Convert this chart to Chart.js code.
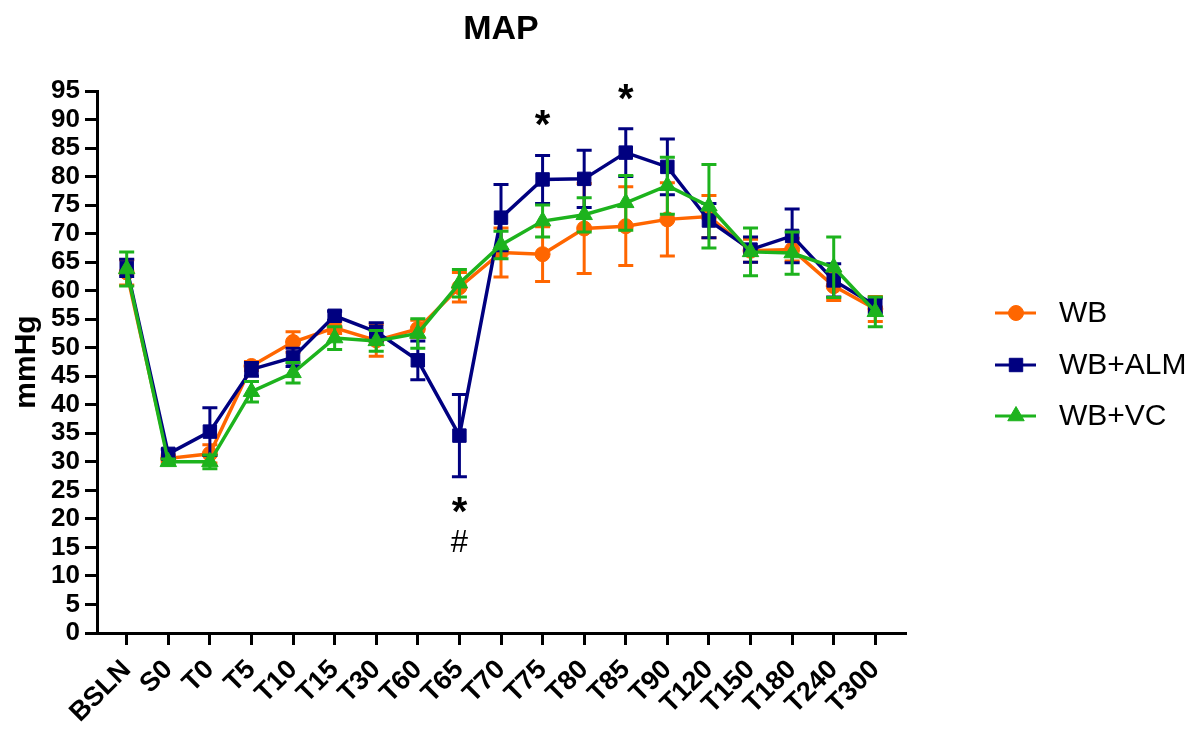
<!DOCTYPE html>
<html>
<head>
<meta charset="utf-8">
<title>MAP</title>
<script src="https://cdn.jsdelivr.net/npm/chart.js@4/dist/chart.umd.min.js"></script>
<style>
  html, body { margin: 0; padding: 0; background: #fff; }
</style>
</head>
<body>
<canvas id="chart" width="1199" height="730"></canvas>
<script>
// time points on the x axis
const timepoints = ['BSLN', 'S0', 'T0', 'T5', 'T10', 'T15', 'T30', 'T60', 'T65', 'T70',
  'T75', 'T80', 'T85', 'T90', 'T120', 'T150', 'T180', 'T240', 'T300'];

// y axis ticks, mmHg
const yTicks = [0, 5, 10, 15, 20, 25, 30, 35, 40, 45, 50, 55, 60, 65, 70, 75, 80, 85, 90, 95];

// mean +/- SEM, mmHg
const wbMean  = [63.2, 30.6, 31.4, 46.8, 51.0, 53.5, 51.3, 53.3, 60.6, 66.7, 66.4, 70.9, 71.3, 72.5, 73.0, 67.0, 67.2, 60.8, 56.8];
const wbSem   = [2.2, 0.6, 1.6, 0.8, 1.8, 1.0, 2.8, 1.5, 2.6, 4.3, 4.8, 7.9, 6.9, 6.4, 3.7, 2.0, 2.0, 2.5, 2.2];
const almMean = [64.0, 31.4, 35.3, 46.2, 48.3, 55.6, 52.8, 47.8, 34.6, 72.8, 79.5, 79.6, 84.2, 81.7, 72.3, 67.2, 69.6, 61.8, 57.4];
const almSem  = [1.5, 0.8, 4.2, 1.2, 1.6, 0.8, 1.6, 3.4, 7.2, 5.8, 4.2, 5.0, 4.2, 4.9, 3.0, 2.2, 4.7, 2.9, 1.3];
const vcMean  = [63.8, 30.0, 30.0, 42.3, 45.6, 51.7, 51.2, 52.5, 61.3, 68.0, 72.2, 73.3, 75.4, 78.4, 74.8, 66.8, 66.6, 64.1, 56.3];
const vcSem   = [3.0, 0.5, 1.2, 1.8, 1.8, 2.0, 1.8, 2.6, 2.4, 2.4, 2.8, 3.0, 4.8, 5.0, 7.3, 4.2, 3.7, 5.3, 2.6];

// significance marks (value = where the mark sits on the y scale)
const marks = [
  { at: 'T65', text: '*', value: 22.7 },
  { at: 'T65', text: '#', value: 16.1 },
  { at: 'T75', text: '*', value: 90.7 },
  { at: 'T85', text: '*', value: 95.2 }
];

const ORANGE = '#ff6600';
const NAVY = '#000080';
const GREEN = '#1db31d';
const FONT = "Arial, 'Liberation Sans', sans-serif";

Chart.defaults.font.family = FONT;
Chart.defaults.color = '#000';

function series(label, mean, sem, color, style, radius, order) {
  return {
    label: label,
    data: mean.map((v, i) => ({ x: i, y: v })),
    sem: sem,
    borderColor: color,
    backgroundColor: color,
    borderWidth: 3.5,
    pointStyle: style,
    pointRadius: radius,
    pointBorderWidth: 1,
    pointBackgroundColor: color,
    pointBorderColor: color,
    tension: 0,
    order: order
  };
}

const errorBars = {
  id: 'errorBars',
  beforeDatasetDraw(chart, args) {
    const ds = chart.data.datasets[args.index];
    const xs = chart.scales.x, ys = chart.scales.y;
    const ctx = chart.ctx;
    ctx.save();
    ctx.strokeStyle = ds.borderColor;
    ctx.lineWidth = 3;
    ds.data.forEach((p, i) => {
      const x = xs.getPixelForValue(p.x);
      const top = ys.getPixelForValue(p.y + ds.sem[i]);
      const bot = ys.getPixelForValue(p.y - ds.sem[i]);
      ctx.beginPath();
      ctx.moveTo(x, top); ctx.lineTo(x, bot);
      ctx.moveTo(x - 7.5, top); ctx.lineTo(x + 7.5, top);
      ctx.moveTo(x - 7.5, bot); ctx.lineTo(x + 7.5, bot);
      ctx.stroke();
    });
    ctx.restore();
  }
};

const extras = {
  id: 'extras',
  afterDraw(chart) {
    const ctx = chart.ctx;
    const area = chart.chartArea;
    const xs = chart.scales.x, ys = chart.scales.y;
    ctx.save();
    // title
    ctx.fillStyle = '#000';
    ctx.font = 'bold 34px ' + FONT;
    ctx.textAlign = 'center';
    ctx.textBaseline = 'middle';
    ctx.fillText('MAP', (area.left + area.right) / 2, 30);

    // significance marks
    marks.forEach(m => {
      const x = xs.getPixelForValue(timepoints.indexOf(m.at));
      const y = ys.getPixelForValue(m.value);
      ctx.textBaseline = 'alphabetic';
      if (m.text === '*') {
        ctx.font = 'bold 40px ' + FONT;
        ctx.fillText(m.text, x, y + 22);
      } else {
        ctx.font = '31px ' + FONT;
        ctx.fillText(m.text, x, y + 11);
      }
    });

    // legend
    const rows = [313, 365, 416];
    chart.data.datasets.forEach((ds, i) => {
      const y = rows[i];
      ctx.strokeStyle = ds.borderColor;
      ctx.fillStyle = ds.backgroundColor;
      ctx.lineWidth = 3;
      ctx.beginPath();
      ctx.moveTo(995, y); ctx.lineTo(1036, y);
      ctx.stroke();
      ctx.lineWidth = 1;
      Chart.helpers.drawPoint(ctx, {
        pointStyle: ds.pointStyle, radius: ds.pointRadius, rotation: 0, borderWidth: 1
      }, 1016, y);
      ctx.fillStyle = '#000';
      ctx.font = '30px ' + FONT;
      ctx.textAlign = 'left';
      ctx.textBaseline = 'middle';
      ctx.fillText(ds.label, 1059, y + 1);
    });
    ctx.restore();
  }
};

new Chart(document.getElementById('chart').getContext('2d'), {
  type: 'line',
  data: {
    datasets: [
      series('WB', wbMean, wbSem, ORANGE, 'circle', 7.5, 3),
      series('WB+ALM', almMean, almSem, NAVY, 'rect', 9.5, 2),
      series('WB+VC', vcMean, vcSem, GREEN, 'triangle', 9.5, 1)
    ]
  },
  options: {
    responsive: false,
    animation: false,
    devicePixelRatio: 1,
    layout: { padding: { top: 91, right: 294, bottom: 0, left: 0 } },
    plugins: {
      legend: { display: false },
      title: { display: false },
      tooltip: { enabled: false }
    },
    scales: {
      x: {
        type: 'linear',
        min: -0.714,
        max: 18.714,
        afterBuildTicks: axis => { axis.ticks = timepoints.map((t, i) => ({ value: i })); },
        afterFit: s => { s.height = 97; },
        ticks: {
          callback: v => timepoints[v],
          autoSkip: false,
          minRotation: 45,
          maxRotation: 45,
          padding: 9,
          color: '#000',
          font: { size: 27, weight: 'bold' }
        },
        grid: { drawOnChartArea: false, tickLength: 12, color: '#000', lineWidth: 3 },
        border: { color: '#000', width: 3 }
      },
      y: {
        min: 0,
        max: 95,
        afterBuildTicks: axis => { axis.ticks = yTicks.map(v => ({ value: v })); },
        afterFit: s => { s.width = 97; },
        ticks: {
          autoSkip: false,
          padding: 5,
          color: '#000',
          font: { size: 26, weight: 'bold' }
        },
        title: {
          display: true,
          text: 'mmHg',
          color: '#000',
          padding: { top: 9, bottom: 0 },
          font: { size: 30, weight: 'bold' }
        },
        grid: { drawOnChartArea: false, tickLength: 12, color: '#000', lineWidth: 3 },
        border: { color: '#000', width: 3 }
      }
    }
  },
  plugins: [errorBars, extras]
});
</script>
</body>
</html>
